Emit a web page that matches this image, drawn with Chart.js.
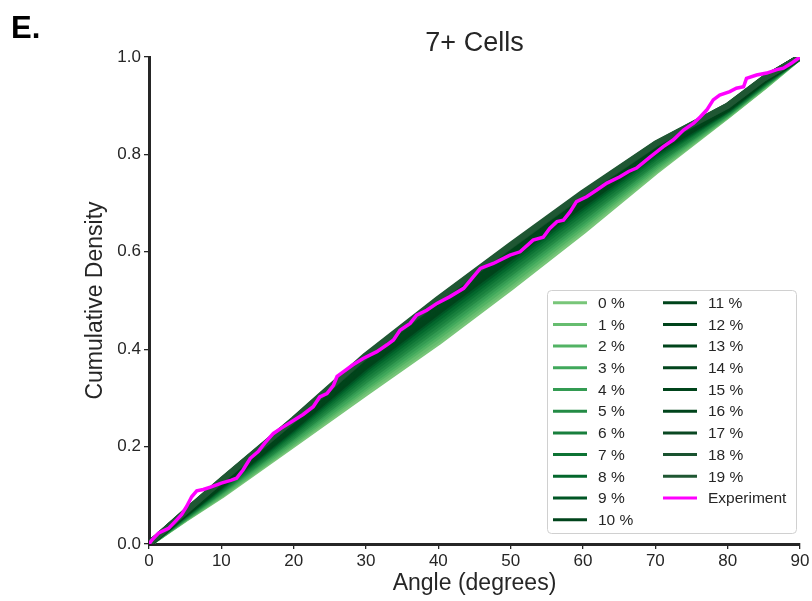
<!DOCTYPE html>
<html>
<head>
<meta charset="utf-8">
<script src="https://cdn.jsdelivr.net/npm/chart.js@4.4.1/dist/chart.umd.min.js"></script>
<style>
  html, body { margin: 0; padding: 0; background: #fff; }
</style>
</head>
<body>
<canvas id="cdfChart" width="812" height="601"></canvas>
<script>
const FONT = "'Liberation Sans', Arial, sans-serif";
const INK = '#262626';

const panelLabel = 'E.';
const titleText = '7+ Cells';

// simulated CDFs, one per noise level, sampled at these angles
const angles = [0, 5, 10, 20, 30, 40, 50, 60, 70, 80, 85, 90];
const sim0  = [0, 0.051, 0.099, 0.204, 0.310, 0.414, 0.526, 0.642, 0.764, 0.879, 0.938, 1];
const sim1  = [0, 0.052, 0.101, 0.208, 0.316, 0.420, 0.532, 0.648, 0.768, 0.880, 0.939, 1];
const sim2  = [0, 0.053, 0.103, 0.211, 0.321, 0.427, 0.538, 0.653, 0.772, 0.882, 0.941, 1];
const sim3  = [0, 0.054, 0.106, 0.215, 0.326, 0.433, 0.545, 0.659, 0.776, 0.883, 0.942, 1];
const sim4  = [0, 0.055, 0.108, 0.219, 0.332, 0.439, 0.551, 0.664, 0.780, 0.885, 0.943, 1];
const sim5  = [0, 0.056, 0.110, 0.222, 0.337, 0.446, 0.557, 0.670, 0.784, 0.886, 0.944, 1];
const sim6  = [0, 0.057, 0.112, 0.226, 0.343, 0.452, 0.563, 0.676, 0.788, 0.888, 0.946, 1];
const sim7  = [0, 0.059, 0.115, 0.230, 0.349, 0.459, 0.570, 0.682, 0.793, 0.890, 0.947, 1];
const sim8  = [0, 0.060, 0.117, 0.234, 0.355, 0.465, 0.576, 0.688, 0.797, 0.891, 0.948, 1];
const sim9  = [0, 0.061, 0.119, 0.237, 0.360, 0.472, 0.582, 0.693, 0.801, 0.892, 0.950, 1];
const sim10 = [0, 0.062, 0.121, 0.240, 0.365, 0.477, 0.588, 0.698, 0.805, 0.894, 0.951, 1];
const sim11 = [0, 0.062, 0.123, 0.243, 0.369, 0.482, 0.592, 0.702, 0.808, 0.895, 0.952, 1];
const sim12 = [0, 0.063, 0.124, 0.245, 0.372, 0.485, 0.596, 0.705, 0.810, 0.896, 0.952, 1];
const sim13 = [0, 0.063, 0.126, 0.247, 0.375, 0.489, 0.599, 0.708, 0.812, 0.896, 0.953, 1];
const sim14 = [0, 0.064, 0.127, 0.249, 0.378, 0.492, 0.603, 0.712, 0.814, 0.897, 0.954, 1];
const sim15 = [0, 0.065, 0.128, 0.251, 0.380, 0.495, 0.605, 0.714, 0.816, 0.898, 0.954, 1];
const sim16 = [0, 0.065, 0.129, 0.252, 0.383, 0.498, 0.608, 0.716, 0.818, 0.898, 0.955, 1];
const sim17 = [0, 0.065, 0.130, 0.254, 0.385, 0.500, 0.611, 0.719, 0.820, 0.899, 0.955, 1];
const sim18 = [0, 0.066, 0.130, 0.255, 0.386, 0.502, 0.612, 0.720, 0.821, 0.900, 0.956, 1];
const sim19 = [0, 0.066, 0.131, 0.256, 0.388, 0.504, 0.614, 0.722, 0.822, 0.900, 0.956, 1];

const simLabels = ['0 %', '1 %', '2 %', '3 %', '4 %', '5 %', '6 %', '7 %', '8 %', '9 %',
                   '10 %', '11 %', '12 %', '13 %', '14 %', '15 %', '16 %', '17 %', '18 %', '19 %'];
const simColors = ['#78c679', '#66bd6f', '#52b364', '#40a85b', '#339b52', '#238b45',
                   '#187f3d', '#0d7334', '#03672c', '#005625', '#00441b',
                   '#00441b', '#00441b', '#00441b', '#02451c', '#00441b', '#00441b',
                   '#0a4822', '#1a5330', '#1f5733'];

// experimental CDF
const expAngle = [0, 0.4, 1.3, 2.7, 3.6, 4.5, 5.2, 5.9, 6.6, 7.5, 8.7, 10.0, 11.4, 12.1, 13.0,
                  14.0, 15.1, 16.0, 17.2, 18.3, 19.7, 21.3, 22.7, 23.6, 24.6, 25.5, 26.0, 26.9,
                  28.2, 29.6, 31.5, 32.9, 33.8, 34.7, 36.1, 37.0, 38.4, 39.8, 41.6, 43.5, 44.8,
                  45.8, 47.6, 49.9, 51.3, 53.1, 54.5, 55.4, 56.4, 57.3, 58.2, 59.1, 60.5, 61.9,
                  63.3, 65.1, 66.3, 67.4, 69.3, 71.1, 72.5, 73.9, 75.3, 76.2, 77.1, 78.0, 78.9,
                  80.3, 81.2, 82.2, 82.6, 84.0, 85.4, 86.8, 87.7, 88.8, 90];
const expValue = [0, 0.008, 0.022, 0.032, 0.046, 0.060, 0.077, 0.097, 0.109, 0.112, 0.118, 0.125,
                  0.131, 0.135, 0.152, 0.176, 0.190, 0.207, 0.227, 0.238, 0.251, 0.266, 0.282,
                  0.302, 0.309, 0.326, 0.344, 0.354, 0.368, 0.381, 0.395, 0.409, 0.419, 0.439,
                  0.453, 0.470, 0.480, 0.494, 0.508, 0.525, 0.548, 0.566, 0.576, 0.593, 0.600,
                  0.624, 0.630, 0.648, 0.662, 0.665, 0.682, 0.703, 0.713, 0.727, 0.741, 0.754,
                  0.765, 0.772, 0.795, 0.816, 0.830, 0.850, 0.864, 0.877, 0.891, 0.912, 0.922,
                  0.929, 0.936, 0.939, 0.956, 0.963, 0.967, 0.974, 0.977, 0.987, 1.0];

const simSeries = [sim0, sim1, sim2, sim3, sim4, sim5, sim6, sim7, sim8, sim9,
                   sim10, sim11, sim12, sim13, sim14, sim15, sim16, sim17, sim18, sim19];

const datasets = simSeries.map((vals, i) => ({
    label: simLabels[i],
    data: vals.map((v, j) => ({ x: angles[j], y: v })),
    borderColor: simColors[i],
    borderWidth: 6,
    borderJoinStyle: 'round',
    pointRadius: 0,
    fill: false,
    order: 20 - i,
}));
datasets.push({
    label: 'Experiment',
    data: expAngle.map((a, j) => ({ x: a, y: expValue[j] })),
    borderColor: '#ff00ff',
    borderWidth: 3.5,
    pointRadius: 0,
    fill: false,
    order: 0,
});

// panel letter, title and the two-column legend inside the plot
const overlay = {
    id: 'overlay',
    afterDraw(chart) {
        const { ctx, chartArea } = chart;
        ctx.save();
        ctx.textAlign = 'left';
        ctx.textBaseline = 'alphabetic';
        ctx.fillStyle = '#000';
        ctx.font = `bold 31px ${FONT}`;
        ctx.fillText(panelLabel, 11, 38);

        ctx.fillStyle = INK;
        ctx.font = `27px ${FONT}`;
        ctx.textAlign = 'center';
        ctx.fillText(titleText, (chartArea.left + chartArea.right) / 2, 51);

        const boxW = 249, boxH = 243;
        const bx = chartArea.right - 4 - boxW;
        const by = chartArea.bottom - 11 - boxH;
        ctx.beginPath();
        ctx.roundRect(bx + 0.5, by + 0.5, boxW, boxH, 4);
        ctx.fillStyle = 'rgba(255,255,255,0.85)';
        ctx.fill();
        ctx.strokeStyle = '#d0d0d0';
        ctx.lineWidth = 1;
        ctx.stroke();

        const rows = 11, pitch = 21.7;
        ctx.font = `15.5px ${FONT}`;
        ctx.textAlign = 'left';
        ctx.textBaseline = 'middle';
        chart.data.datasets.forEach((ds, i) => {
            const col = Math.floor(i / rows);
            const row = i % rows;
            const x0 = bx + 6 + col * 110;
            const y = by + 12.7 + row * pitch;
            ctx.strokeStyle = ds.borderColor;
            ctx.lineWidth = 3;
            ctx.beginPath();
            ctx.moveTo(x0, y);
            ctx.lineTo(x0 + 34, y);
            ctx.stroke();
            ctx.fillStyle = INK;
            ctx.fillText(ds.label, x0 + 45, y + 1);
        });
        ctx.restore();
    },
};

new Chart(document.getElementById('cdfChart').getContext('2d'), {
    type: 'line',
    data: { datasets },
    options: {
        responsive: false,
        animation: false,
        layout: { padding: { left: 0, right: 12, top: 57, bottom: 0 } },
        plugins: { legend: { display: false }, tooltip: { enabled: false } },
        scales: {
            x: {
                type: 'linear',
                min: 0,
                max: 90,
                ticks: { stepSize: 10, color: INK, font: { family: FONT, size: 17 }, padding: 2, maxRotation: 0 },
                grid: { drawOnChartArea: false, drawTicks: true, tickLength: 5, color: INK, lineWidth: 1.3 },
                border: { display: true, color: INK, width: 3 },
                title: { display: true, text: 'Angle (degrees)', color: INK, font: { family: FONT, size: 23 }, padding: { top: 0, bottom: 4 } },
                afterFit: (s) => { s.height = 57; },
            },
            y: {
                type: 'linear',
                min: 0,
                max: 1,
                ticks: { stepSize: 0.2, color: INK, font: { family: FONT, size: 17 }, padding: 3,
                         callback: (v) => v.toFixed(1) },
                grid: { drawOnChartArea: false, drawTicks: true, tickLength: 5, color: INK, lineWidth: 1.3 },
                border: { display: true, color: INK, width: 3 },
                title: { display: true, text: 'Cumulative Density', color: INK, font: { family: FONT, size: 23 }, padding: { top: 82, bottom: 0 } },
                afterFit: (s) => { s.width = 149; },
            },
        },
    },
    plugins: [overlay],
});
</script>
</body>
</html>
